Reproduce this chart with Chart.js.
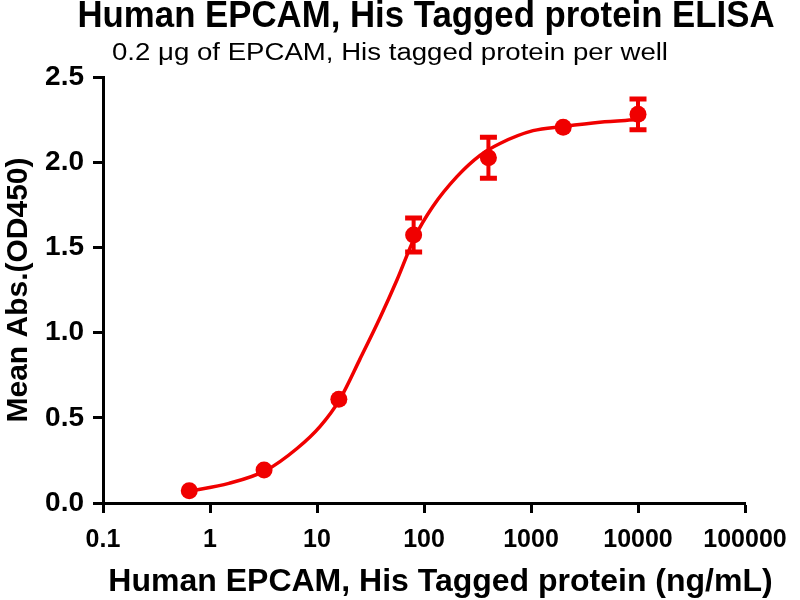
<!DOCTYPE html>
<html>
<head>
<meta charset="utf-8">
<script src="https://cdn.jsdelivr.net/npm/chart.js@4"></script>
<style>
  body { margin: 0; background: #fff; }
  #wrap { width: 800px; height: 600px; }
</style>
</head>
<body>
<div id="wrap"><canvas id="myChart" width="800" height="600"></canvas></div>
<script>
// measured points (mean +/- error)
const concentrations = [0.64, 3.2, 16, 80, 400, 2000, 10000];
const meanAbs = [0.072, 0.194, 0.609, 1.573, 2.026, 2.205, 2.281];
const errAbs = [0, 0, 0, 0.10, 0.12, 0, 0.09];

// fitted curve
const fitX = [0.65, 1.5, 3.3, 6.5, 10.7, 16.4, 25, 39, 56, 82, 121, 203, 334, 513, 1045, 2000, 4400, 10000];
const fitY = [0.07, 0.115, 0.19, 0.32, 0.45, 0.61, 0.84, 1.09, 1.31, 1.56, 1.74, 1.915, 2.04, 2.11, 2.185, 2.21, 2.235, 2.25];

const xTickValues = [0.1, 1, 10, 100, 1000, 10000, 100000];
const xTickLabels = ['0.1', '1', '10', '100', '1000', '10000', '100000'];
const yTickValues = [0, 0.5, 1.0, 1.5, 2.0, 2.5];
const yTickLabels = ['0.0', '0.5', '1.0', '1.5', '2.0', '2.5'];

const titleText = 'Human EPCAM, His Tagged protein ELISA';
const subtitleText = '0.2 \u03bcg of EPCAM, His tagged protein per well';
const xTitleText = 'Human EPCAM, His Tagged protein (ng/mL)';
const yTitleText = 'Mean Abs.(OD450)';

const red = 'rgb(240, 0, 0)';
const fontFamily = '"Liberation Sans", Arial, sans-serif';

// error bars drawn just before the points dataset
const errorBars = {
    id: 'errorBars',
    beforeDatasetDraw(chart, args) {
        if (args.index !== 1) return;
        const ctx = chart.ctx;
        const xs = chart.scales.x, ys = chart.scales.y;
        ctx.save();
        ctx.strokeStyle = red;
        for (let i = 0; i < concentrations.length; i++) {
            if (!errAbs[i]) continue;
            const px = xs.getPixelForValue(concentrations[i]);
            const top = ys.getPixelForValue(meanAbs[i] + errAbs[i]);
            const bot = ys.getPixelForValue(meanAbs[i] - errAbs[i]);
            ctx.lineWidth = 4;
            ctx.beginPath();
            ctx.moveTo(px, top);
            ctx.lineTo(px, bot);
            ctx.stroke();
            ctx.lineWidth = 5;
            ctx.beginPath();
            ctx.moveTo(px - 8.5, top);
            ctx.lineTo(px + 8.5, top);
            ctx.moveTo(px - 8.5, bot);
            ctx.lineTo(px + 8.5, bot);
            ctx.stroke();
        }
        ctx.restore();
    }
};

// titles placed like the GraphPad export (not centred on the canvas)
const headerText = {
    id: 'headerText',
    afterDraw(chart) {
        const ctx = chart.ctx;
        const area = chart.chartArea;
        ctx.save();
        ctx.fillStyle = '#000';
        ctx.textBaseline = 'alphabetic';

        // main title, a bit condensed
        ctx.font = 'bold 36px ' + fontFamily;
        ctx.textAlign = 'center';
        ctx.fillText(titleText, (area.left + area.right) / 2 + 2, 27, 697);

        // subtitle, stretched wide
        ctx.font = '23px ' + fontFamily;
        ctx.textAlign = 'left';
        const w = ctx.measureText(subtitleText).width;
        ctx.save();
        ctx.translate(112, 60);
        ctx.scale(556 / w, 1);
        ctx.fillText(subtitleText, 0, 0);
        ctx.restore();

        // x axis title
        ctx.font = 'bold 32px ' + fontFamily;
        ctx.textAlign = 'center';
        ctx.fillText(xTitleText, 440.5, 591, 665);
        ctx.restore();
    }
};

document.addEventListener('DOMContentLoaded', function () {
    const ctx = document.getElementById('myChart').getContext('2d');
    new Chart(ctx, {
        type: 'scatter',
        data: {
            datasets: [{
                type: 'line',
                data: fitX.map((x, i) => ({ x: x, y: fitY[i] })),
                borderColor: red,
                borderWidth: 3.5,
                pointRadius: 0,
                cubicInterpolationMode: 'monotone',
                fill: false
            }, {
                data: concentrations.map((x, i) => ({ x: x, y: meanAbs[i] })),
                backgroundColor: red,
                borderColor: red,
                pointRadius: 8.5,
                pointBorderWidth: 0
            }]
        },
        options: {
            responsive: false,
            animation: false,
            devicePixelRatio: 1,
            layout: { padding: { left: 0, right: 55, top: 77, bottom: 0 } },
            plugins: {
                legend: { display: false },
                tooltip: { enabled: false },
                title: { display: false },
                subtitle: { display: false }
            },
            scales: {
                x: {
                    type: 'logarithmic',
                    min: 0.1,
                    max: 100000,
                    afterBuildTicks: (scale) => {
                        scale.ticks = xTickValues.map(v => ({ value: v }));
                    },
                    afterFit: (scale) => { scale.height = 97; },
                    ticks: {
                        color: '#000',
                        padding: 12,
                        maxRotation: 0,
                        autoSkip: false,
                        font: { family: fontFamily, size: 25, weight: 'bold' },
                        callback: (value) => {
                            const k = xTickValues.indexOf(value);
                            return k >= 0 ? xTickLabels[k] : '';
                        }
                    },
                    grid: {
                        drawOnChartArea: false,
                        drawTicks: true,
                        tickLength: 10,
                        tickWidth: 3,
                        tickColor: '#000'
                    },
                    border: { display: true, color: '#000', width: 3 },
                    title: { display: false }
                },
                y: {
                    min: 0,
                    max: 2.5,
                    afterBuildTicks: (scale) => {
                        scale.ticks = yTickValues.map(v => ({ value: v }));
                    },
                    afterFit: (scale) => { scale.width = 103; },
                    ticks: {
                        color: '#000',
                        padding: 9,
                        font: { family: fontFamily, size: 28, weight: 'bold' },
                        callback: (value) => {
                            const k = yTickValues.indexOf(value);
                            return k >= 0 ? yTickLabels[k] : '';
                        }
                    },
                    grid: {
                        drawOnChartArea: false,
                        drawTicks: true,
                        tickLength: 10,
                        tickWidth: 3,
                        tickColor: '#000'
                    },
                    border: { display: true, color: '#000', width: 3 },
                    title: {
                        display: true,
                        text: yTitleText,
                        color: '#000',
                        font: { family: fontFamily, size: 30, weight: 'bold', lineHeight: 1 },
                        padding: { top: 4, bottom: 0 }
                    }
                }
            }
        },
        plugins: [errorBars, headerText]
    });
});
</script>
</body>
</html>
